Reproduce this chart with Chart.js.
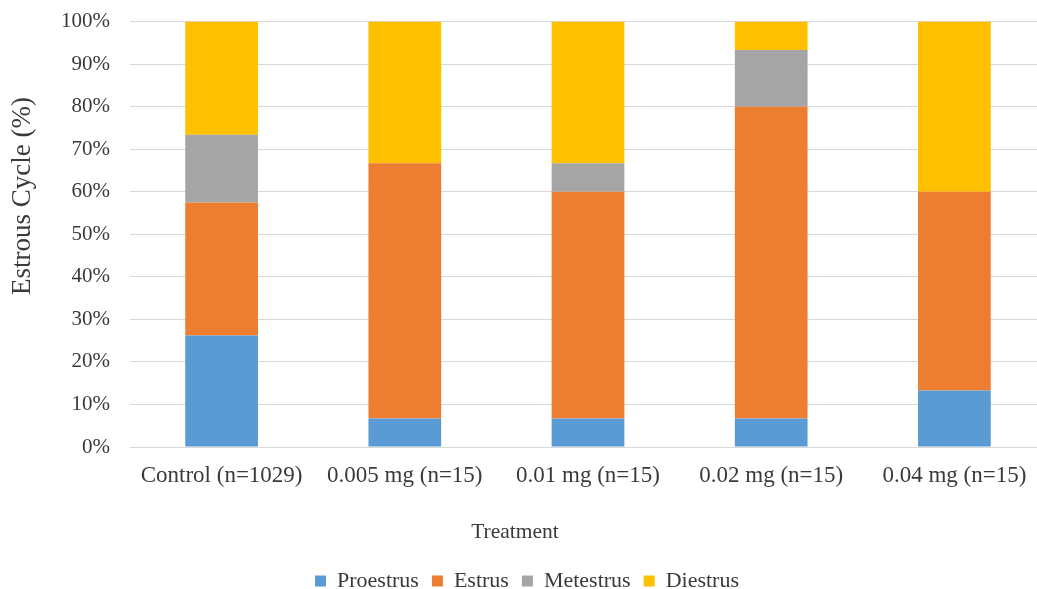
<!DOCTYPE html>
<html>
<head>
<meta charset="utf-8">
<script src="https://cdn.jsdelivr.net/npm/chart.js@4/dist/chart.umd.min.js"></script>
<style>
  html, body { margin: 0; padding: 0; background: #fff; overflow: hidden; }
  #wrap { position: relative; width: 1046px; height: 604px; }
</style>
</head>
<body>
<div id="wrap"><canvas id="chart" width="1046" height="604"></canvas></div>
<script>
// Treatment groups and percentage of each estrous stage per group
const categories = ['Control (n=1029)', '0.005 mg (n=15)', '0.01 mg (n=15)', '0.02 mg (n=15)', '0.04 mg (n=15)'];
const proestrus = [26.2, 6.7, 6.7, 6.7, 13.3];
const estrus    = [31.3, 60.0, 53.3, 73.3, 46.7];
const metestrus = [15.9, 0.0, 6.7, 13.3, 0.0];
const diestrus  = [26.6, 33.3, 33.3, 6.7, 40.0];
const yTicks = [0, 10, 20, 30, 40, 50, 60, 70, 80, 90, 100];
const yTitle = 'Estrous Cycle (%)';
const xTitle = 'Treatment';

const serif = '"Liberation Serif", "Times New Roman", serif';
const textColor = '#3a3a3a';

function series(label, data, color) {
  return {
    label, data,
    backgroundColor: color,
    borderWidth: 0,
    categoryPercentage: 1.0,
    barPercentage: 0.397
  };
}

// Axis titles, placed in the margins around the plot
const axisTitles = {
  id: 'axisTitles',
  afterDraw(chart) {
    const ctx = chart.ctx;
    ctx.save();
    ctx.fillStyle = textColor;
    ctx.textAlign = 'center';
    ctx.textBaseline = 'middle';
    ctx.font = '21.5px ' + serif;
    ctx.fillText(xTitle, 515, 532);
    ctx.translate(23, 196);
    ctx.rotate(-Math.PI / 2);
    ctx.font = '27px ' + serif;
    ctx.fillText(yTitle, 0, 0);
    ctx.restore();
  }
};

new Chart(document.getElementById('chart'), {
  type: 'bar',
  data: {
    labels: categories,
    datasets: [
      series('Proestrus', proestrus, '#5B9BD5'),
      series('Estrus', estrus, '#ED7D31'),
      series('Metestrus', metestrus, '#A5A5A5'),
      series('Diestrus', diestrus, '#FFC000')
    ]
  },
  plugins: [axisTitles],
  options: {
    responsive: false,
    animation: false,
    layout: { padding: { top: 0, left: 8, right: 0, bottom: 2 } },
    plugins: {
      tooltip: { enabled: false },
      legend: {
        position: 'bottom',
        labels: {
          boxWidth: 11,
          boxHeight: 11,
          padding: 13,
          color: textColor,
          font: { family: serif, size: 22 }
        }
      }
    },
    scales: {
      x: {
        stacked: true,
        grid: { display: false },
        border: { display: false },
        ticks: {
          color: textColor,
          padding: 7,
          maxRotation: 0,
          font: { family: serif, size: 23 }
        },
        afterFit(axis) { axis.height = 110; }
      },
      y: {
        stacked: true,
        min: 0,
        max: 100,
        afterBuildTicks(axis) { axis.ticks = yTicks.map(v => ({ value: v })); },
        grid: { color: '#d9d9d9', drawTicks: true, tickLength: 11, tickColor: 'rgba(0,0,0,0)', lineWidth: 1 },
        border: { display: false },
        ticks: {
          color: textColor,
          padding: 9,
          font: { family: serif, size: 21 },
          callback: v => v + '%'
        },
        afterFit(axis) { axis.width = 122; }
      }
    }
  }
});
</script>
</body>
</html>
